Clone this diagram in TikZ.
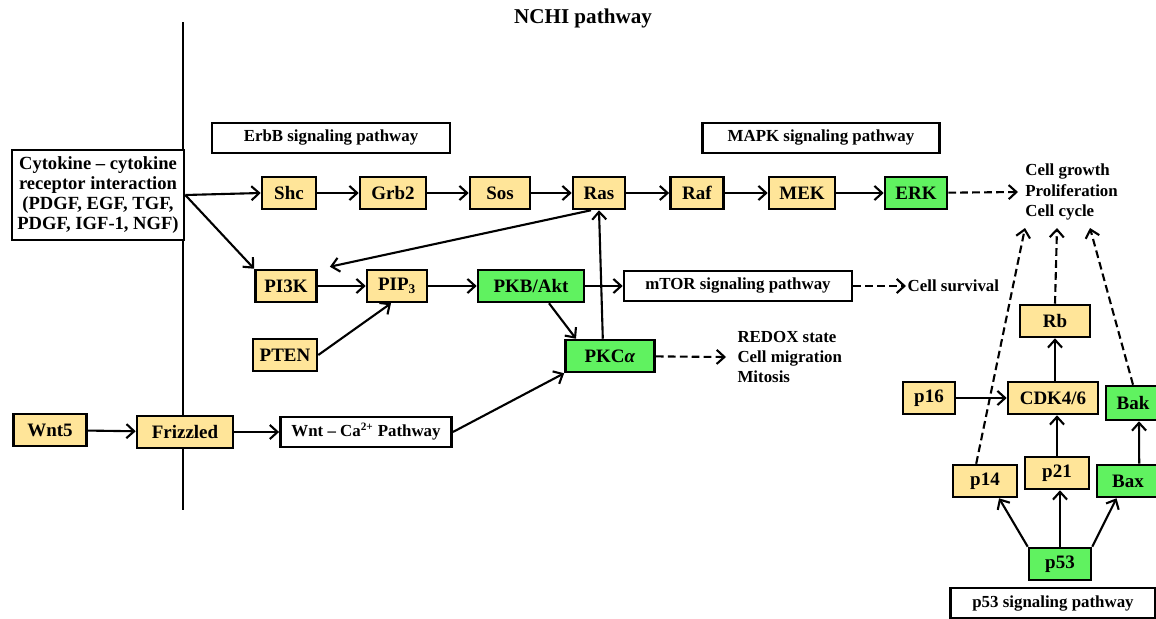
\documentclass[tikz,border=0pt]{standalone}
\usepackage{fontspec}
\setmainfont{Liberation Serif}
\usetikzlibrary{arrows.meta}
\definecolor{tan}{RGB}{255,229,153}
\definecolor{lgreen}{RGB}{96,242,96}
\begin{document}
\begin{tikzpicture}[x=0.025cm,y=-0.025cm,
		font=\fontsize{12}{14.5}\selectfont\bfseries,
		>={Straight Barb[length=5.5pt,width=10pt]},
		box/.style={draw,line width=1.8pt,fill=tan,minimum height=0.8cm,inner sep=2pt,
			font=\fontsize{13.5}{16}\selectfont\bfseries},
		gbox/.style={box,fill=lgreen},
		wbox/.style={box,fill=white,minimum height=0.74cm,font=\fontsize{12}{14.5}\selectfont\bfseries},
		lab/.style={inner ysep=0pt,align=left,anchor=west},
		ar/.style={line width=1.5pt,->},
		dar/.style={ar,dash pattern=on 5.5pt off 3pt}]
			\useasboundingbox (0,0) rectangle (1156,618);

			\node[font=\fontsize{15}{18}\selectfont\bfseries] (title) at (583,18) {NCHI pathway};

			\coordinate (top) at (183, 22);
			\coordinate (bot) at (183,510);
			\draw[line width=1.5pt] (top) -- (bot);

			% pathway labels
			\node[wbox,minimum width=5.95cm] (erbb) at ( 331,138) {ErbB signaling pathway};
			\node[wbox,minimum width=5.93cm] (mapk) at ( 821,138) {MAPK signaling pathway};
			\node[wbox,minimum width=5.7cm ] (mtor) at ( 738,286) {mTOR signaling pathway};
			\node[wbox,minimum width=4.28cm] (wntca) at (366,432) {Wnt – Ca\textsuperscript{2+} Pathway};
			\node[wbox,minimum width=5.13cm,minimum height=0.75cm] (p53sp) at (1053,603) {p53 signaling pathway};
			\node[wbox,minimum width=4.3cm,minimum height=2.25cm,align=center,
				font=\fontsize{13.2}{14.4}\selectfont\bfseries] (cyto) at (98,195)
				{Cytokine – cytokine\\receptor interaction\\(PDGF, EGF, TGF,\\PDGF, IGF-1, NGF)};

			% upper row
			\node[box ,minimum width=1.35cm] (shc)  at ( 289,193) {Shc};
			\node[box ,minimum width=1.65cm] (grb)  at ( 393,193) {Grb2};
			\node[box ,minimum width=1.5cm ] (sos)  at ( 500,193) {Sos};
			\node[box ,minimum width=1.3cm ] (ras)  at ( 599,193) {Ras};
			\node[box ,minimum width=1.33cm] (raf)  at ( 697,193) {Raf};
			\node[box ,minimum width=1.65cm] (mek)  at ( 802,193) {MEK};
			\node[gbox,minimum width=1.55cm] (erk)  at ( 916,193) {ERK};

			% middle rows
			\node[box ,minimum width=1.53cm] (pi3k) at ( 286,286) {PI3K};
			\node[box ,minimum width=1.5cm ] (pip)  at ( 397,286) {PIP\textsubscript{3}};
			\node[gbox,minimum width=2.65cm] (pkb)  at ( 531,286) {PKB/Akt};
			\node[box ,minimum width=1.6cm ] (pten) at ( 285,355) {PTEN};
			\node[gbox,minimum width=2.23cm] (pkc)  at ( 610,356) {PKC\textit{α}};
			\node[box ,minimum width=1.83cm] (wnt5) at (  50,430) {Wnt5};
			\node[box ,minimum width=2.4cm ] (friz) at ( 185,432) {Frizzled};

			% p53 part
			\node[box ,minimum width=1.75cm] (rb)   at (1055,321) {Rb};
			\node[box ,minimum width=1.3cm ] (p16)  at ( 929,398) {p16};
			\node[box ,minimum width=2.25cm] (cdk)  at (1053,398) {CDK4/6};
			\node[gbox,minimum width=1.35cm,minimum height=0.85cm] (bak) at (1133,403) {Bak};
			\node[box ,minimum width=1.6cm ] (p14)  at ( 985,481) {p14};
			\node[box ,minimum width=1.6cm ] (p21)  at (1057,473) {p21};
			\node[gbox,minimum width=1.55cm] (bax)  at (1128,481) {Bax};
			\node[gbox,minimum width=1.55cm] (p53)  at (1060,564) {p53};

			% outcomes
			\node[lab,inner xsep=5pt] (growth) at (1018,192) {Cell growth\\Proliferation\\Cell cycle};
			\node[lab,inner xsep=1pt] (surv)   at ( 906,286) {Cell survival};
			\node[lab,inner xsep=8pt] (redox)  at ( 726,357) {REDOX state\\Cell migration\\Mitosis};
			\coordinate (t1) at (1025,228);
			\coordinate (t2) at (1057,228);
			\coordinate (t3) at (1090,228);

			\draw[ar] (cyto.east) -- (shc.west);
			\draw[ar] (cyto.east) -- (pi3k.north west);
			\draw[ar] (shc)  -- (grb);
			\draw[ar] (grb)  -- (sos);
			\draw[ar] (sos)  -- (ras);
			\draw[ar] (ras)  -- (raf);
			\draw[ar] (raf)  -- (mek);
			\draw[ar] (mek)  -- (erk);
			\draw[ar] ([xshift=-0.2cm]ras.south) -- ([xshift=0.3cm,yshift=0.05cm]pi3k.north east);
			\draw[ar] (pi3k) -- (pip);
			\draw[ar] (pip)  -- (pkb);
			\draw[ar] (pkb)  -- (mtor);
			\draw[ar] (pten.east) -- ([xshift=-0.15cm]pip.south);
			\draw[ar] ([xshift=0.45cm]pkb.south) -- ([xshift=-0.85cm]pkc.north);
			\draw[ar] ([xshift=-0.18cm]pkc.north) -- (ras.south);
			\draw[ar] (wnt5) -- (friz);
			\draw[ar] (friz) -- (wntca);
			\draw[ar] (wntca.east) -- (pkc.south west);

			\draw[dar] (erk)  -- (growth.west);
			\draw[dar] (mtor) -- (surv.west);
			\draw[dar] (pkc)  -- (redox.west);

			\draw[ar] (p16) -- (cdk);
			\draw[ar] (cdk.north -| rb) -- (rb.south);
			\draw[ar] (p21.north) -- (p21.north |- cdk.south);
			\draw[ar] ([xshift=0.28cm]bax.north) -- ([xshift=0.15cm]bak.south);
			\draw[ar] (p53.north west) -- ([xshift=-0.48cm]p14.south east);
			\draw[ar] (p53.north) -- (p53.north |- p21.south);
			\draw[ar] (p53.north east) -- ([xshift=0.52cm]bax.south west);

			\draw[dar] ([xshift=-0.22cm]p14.north) -- (t1);
			\draw[dar] (rb.north) -- (t2);
			\draw[dar] (bak.north) -- (t3);
		\end{tikzpicture}
\end{document}
